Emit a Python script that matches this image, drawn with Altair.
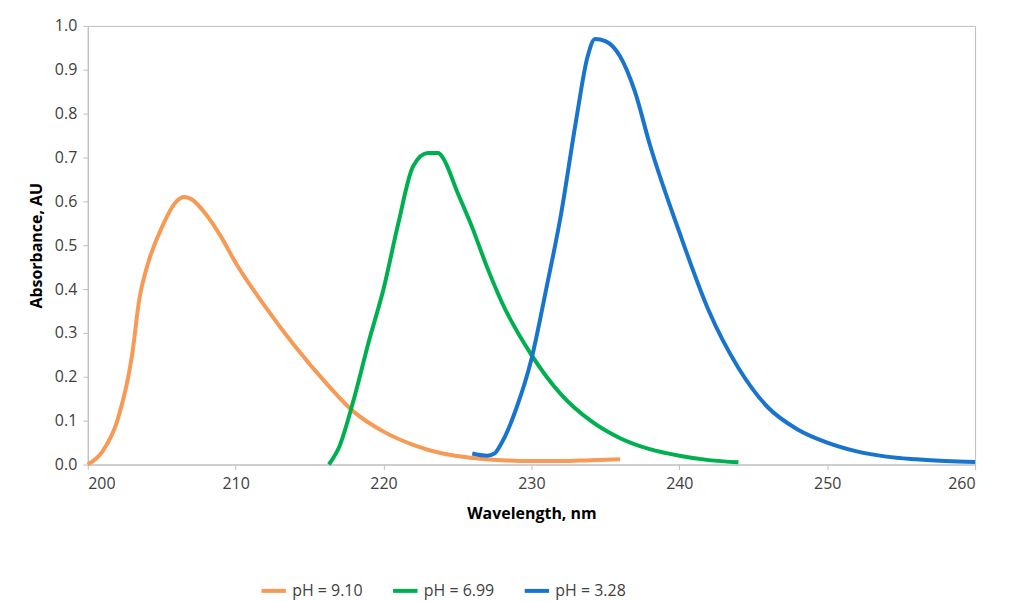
import altair as alt
import pandas as pd

series_names = ["pH = 9.10", "pH = 6.99", "pH = 3.28"]
colors = ["#F79A55", "#00B050", "#1874CD"]

wl_910 = [200, 201, 202, 203, 203.5, 204, 205, 206, 206.5, 207, 208, 209, 210, 212, 214, 216, 218, 220, 222, 224, 226, 228, 230, 232, 234, 236]
ab_910 = [0, 0.03, 0.1, 0.25, 0.38, 0.45, 0.54, 0.6, 0.61, 0.605, 0.57, 0.52, 0.46, 0.36, 0.27, 0.19, 0.12, 0.075, 0.045, 0.025, 0.015, 0.01, 0.008, 0.008, 0.01, 0.012]

wl_699 = [216.3, 217, 218, 219, 220, 221, 222, 223, 223.7, 224, 225, 226, 227, 228, 230, 232, 234, 236, 238, 240, 242, 244]
ab_699 = [0, 0.04, 0.15, 0.28, 0.4, 0.55, 0.68, 0.71, 0.71, 0.7, 0.62, 0.54, 0.45, 0.37, 0.25, 0.16, 0.1, 0.06, 0.035, 0.02, 0.01, 0.005]

wl_328 = [226, 227, 227.5, 228, 229, 230, 231, 232, 233, 233.8, 234.3, 235, 236, 237, 238, 240, 242, 244, 246, 248, 250, 252, 254, 256, 258, 260]
ab_328 = [0.025, 0.02, 0.025, 0.05, 0.13, 0.24, 0.4, 0.57, 0.78, 0.93, 0.97, 0.965, 0.93, 0.85, 0.73, 0.53, 0.35, 0.22, 0.13, 0.08, 0.05, 0.03, 0.018, 0.012, 0.008, 0.006]

frames = []
for name, wl, ab in zip(series_names, [wl_910, wl_699, wl_328], [ab_910, ab_699, ab_328]):
    frames.append(pd.DataFrame({"wl": wl, "ab": ab, "series": name}))
data = pd.concat(frames)

font = "Open Sans"

chart = (
    alt.Chart(data)
    .mark_line(strokeWidth=4, interpolate="monotone")
    .encode(
        x=alt.X("wl:Q", title="Wavelength, nm",
                scale=alt.Scale(domain=[200, 260], nice=False),
                axis=alt.Axis(values=list(range(200, 261, 10)), grid=False,
                              titlePadding=14)),
        y=alt.Y("ab:Q", title="Absorbance, AU",
                scale=alt.Scale(domain=[0, 1.0], nice=False),
                axis=alt.Axis(values=[i / 10 for i in range(11)], format=".1f", grid=False,
                              titlePadding=10)),
        color=alt.Color("series:N", sort=series_names, title=None,
                        scale=alt.Scale(domain=series_names, range=colors),
                        legend=alt.Legend(orient="none", direction="horizontal",
                                          legendX=172, legendY=112 + 440,
                                          symbolType="stroke",
                                          symbolStrokeWidth=4, symbolSize=600,
                                          labelFontSize=16, columnPadding=22)),
        order=alt.Order("wl:Q"),
    )
    .properties(width=890, height=440,
                padding={"left": 20, "top": 9, "right": 18, "bottom": 5})
    .configure_view(stroke="#BFBFBF", strokeWidth=1)
    .configure_axis(domainColor="#BFBFBF", tickColor="#BFBFBF", labelFontSize=16,
                    titleFontSize=16, titleFontWeight="bold", labelFont=font,
                    titleFont=font, labelColor="#404040", titleColor="#000000",
                    labelPadding=6)
    .configure_legend(labelFont=font, labelColor="#404040")
)

chart.save("out.html", embed_options={"renderer": "svg", "actions": False})
